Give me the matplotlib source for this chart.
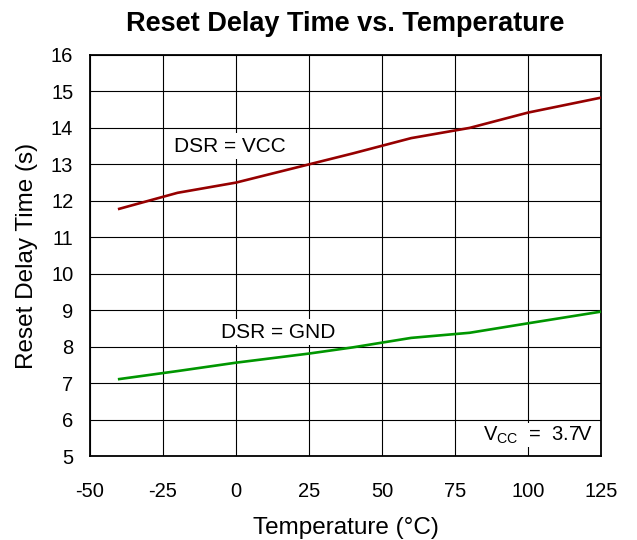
import matplotlib
matplotlib.use("Agg")
import matplotlib.pyplot as plt

plt.rcParams['font.family'] = ['Liberation Sans', 'DejaVu Sans']
plt.rcParams['axes.unicode_minus'] = False

temps = [-40, -20, 0, 25, 40, 60, 80, 100, 125]
dsr_vcc = [11.78, 12.22, 12.5, 13.0, 13.3, 13.72, 14.0, 14.42, 14.83]
dsr_gnd = [7.11, 7.33, 7.56, 7.81, 7.98, 8.24, 8.38, 8.64, 8.96]
xticks = [-50, -25, 0, 25, 50, 75, 100, 125]
yticks = list(range(5, 17))

fig = plt.figure(figsize=(6.37, 5.40), dpi=100)
ax = fig.add_axes([90/637, 1-456/540, (601-90)/637, (456-55)/540])

ax.plot(temps, dsr_vcc, color='#960000', lw=1.9, zorder=3)
ax.plot(temps, dsr_gnd, color='#009600', lw=1.9, zorder=3)

ax.set_xlim(-50, 125)
ax.set_ylim(5, 16)
ax.set_xticks(xticks)
ax.set_yticks(yticks)
ax.tick_params(axis='x', length=0, labelsize=14.5, pad=19)
ax.tick_params(axis='y', length=0, labelsize=14.5, pad=12)
ax.grid(True, color='black', lw=0.8)
ax.set_axisbelow(True)
for s in ax.spines.values():
    s.set_linewidth(1.3)

ax.set_xlabel('Temperature (°C)', fontsize=17.5, labelpad=11)
ax.set_ylabel('Reset Delay Time (s)', fontsize=17.5, labelpad=9)
ax.set_title('Reset Delay Time vs. Temperature', fontsize=19.5, fontweight='bold', pad=17)

bbox = dict(facecolor='white', edgecolor='none', pad=2.5)
ax.text(-21.2, 13.5, 'DSR = VCC', fontsize=15, ha='left', va='center', bbox=bbox, zorder=2)
ax.text(-5.1, 8.4, 'DSR = GND', fontsize=15, ha='left', va='center', bbox=bbox, zorder=2)
ax.text(122, 5.57, r'V$_{\mathregular{CC}}$  =  3.7V', fontsize=14.5, ha='right', va='center',
        bbox=dict(facecolor='white', edgecolor='none', pad=1.2), zorder=2)

fig.savefig('out.png', dpi=100)
